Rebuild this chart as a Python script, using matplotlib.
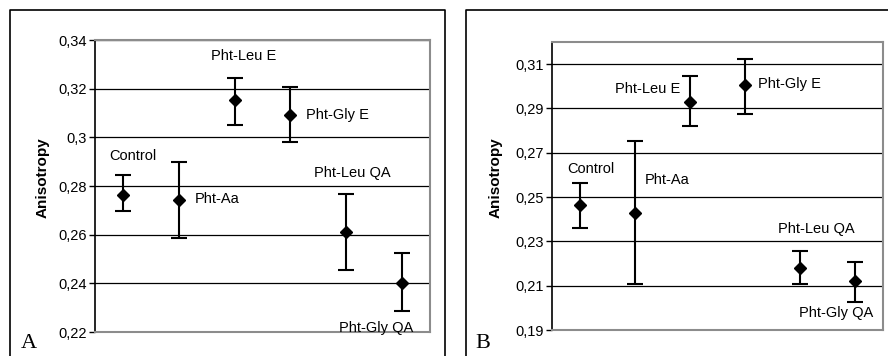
import matplotlib.pyplot as plt
from matplotlib.lines import Line2D

plt.rcParams['font.family'] = ['Liberation Sans', 'DejaVu Sans']

groups = ["Control", "Pht-Aa", "Pht-Leu E", "Pht-Gly E", "Pht-Leu QA", "Pht-Gly QA"]

# panel A
a_mean = [0.2765, 0.2742, 0.3153, 0.3090, 0.2611, 0.2402]
a_low = [0.2697, 0.2587, 0.3052, 0.2982, 0.2456, 0.2286]
a_high = [0.2845, 0.2897, 0.3245, 0.3207, 0.2766, 0.2526]
a_ticks = [0.22, 0.24, 0.26, 0.28, 0.30, 0.32, 0.34]

# panel B
b_mean = [0.2462, 0.2427, 0.2930, 0.3005, 0.2182, 0.2121]
b_low = [0.2361, 0.2106, 0.2819, 0.2877, 0.2106, 0.2028]
b_high = [0.2564, 0.2751, 0.3048, 0.3124, 0.2258, 0.2207]
b_ticks = [0.19, 0.21, 0.23, 0.25, 0.27, 0.29, 0.31]

# label positions (x, y, ha) in data coords
a_labels = [(0.17, 0.2923, 'center'), (1.29, 0.2746, 'left'), (2.17, 0.3334, 'center'),
            (3.28, 0.3091, 'left'), (4.10, 0.2854, 'center'), (4.54, 0.2218, 'center')]
b_labels = [(0.20, 0.2627, 'center'), (1.18, 0.2578, 'left'), (1.23, 0.2987, 'center'),
            (3.23, 0.3011, 'left'), (4.29, 0.2358, 'center'), (4.65, 0.1975, 'center')]

W, H = 888, 356
fig = plt.figure(figsize=(W / 100, H / 100), dpi=100)


def px_axes(l, t, r, b):
    return fig.add_axes([l / W, 1 - b / H, (r - l) / W, (b - t) / H])


def draw_panel(ax, mean, low, high, ticks, ylim, labels):
    x = list(range(len(groups)))
    err = [[m - lo for m, lo in zip(mean, low)], [hi - m for m, hi in zip(mean, high)]]
    for t in ticks:
        ax.axhline(t, color='black', lw=0.9, zorder=1)
    ax.errorbar(x, mean, yerr=err, fmt='D', color='black', ms=6.5,
                elinewidth=1.5, capsize=5.5, capthick=1.5, zorder=3)
    for name, (lx, ly, ha) in zip(groups, labels):
        ax.text(lx, ly, name, ha=ha, va='center', fontsize=10.5, zorder=4)
    ax.set_xlim(-0.5, 5.5)
    ax.set_ylim(*ylim)
    ax.set_xticks([])
    ax.set_yticks(ticks)
    ax.set_yticklabels([f"{t:g}".replace('.', ',') for t in ticks], fontsize=10.5)
    ax.tick_params(axis='y', direction='out', length=4, width=1, color='black', pad=2)
    for s in ['top', 'right', 'bottom']:
        ax.spines[s].set_color('#8c8c8c')
        ax.spines[s].set_linewidth(1.5)
    ax.spines['left'].set_color('black')
    ax.spines['left'].set_linewidth(1.2)


ax1 = px_axes(95, 40, 430, 332)
draw_panel(ax1, a_mean, a_low, a_high, a_ticks, (0.22, 0.34), a_labels)
ax2 = px_axes(552, 42, 883, 330)
draw_panel(ax2, b_mean, b_low, b_high, b_ticks, (0.19, 0.32), b_labels)

fig.text(43 / W, 1 - 178 / H, "Anisotropy", rotation=90, ha='center', va='center',
         fontsize=11, fontweight='bold')
fig.text(496 / W, 1 - 178 / H, "Anisotropy", rotation=90, ha='center', va='center',
         fontsize=11, fontweight='bold')
fig.text(29 / W, 1 - 343 / H, "A", ha='center', va='center', fontsize=16,
         family='Liberation Serif')
fig.text(483 / W, 1 - 343 / H, "B", ha='center', va='center', fontsize=16,
         family='Liberation Serif')

# outer frames around each panel
for xs, ys in [([10, 10, 444.5, 444.5], [356, 10, 10, 356]),
               ([466, 466, 888], [356, 10, 10])]:
    fig.add_artist(Line2D([v / W for v in xs], [1 - v / H for v in ys],
                          color='black', lw=1.2, transform=fig.transFigure))

fig.savefig("out.png", dpi=100)
